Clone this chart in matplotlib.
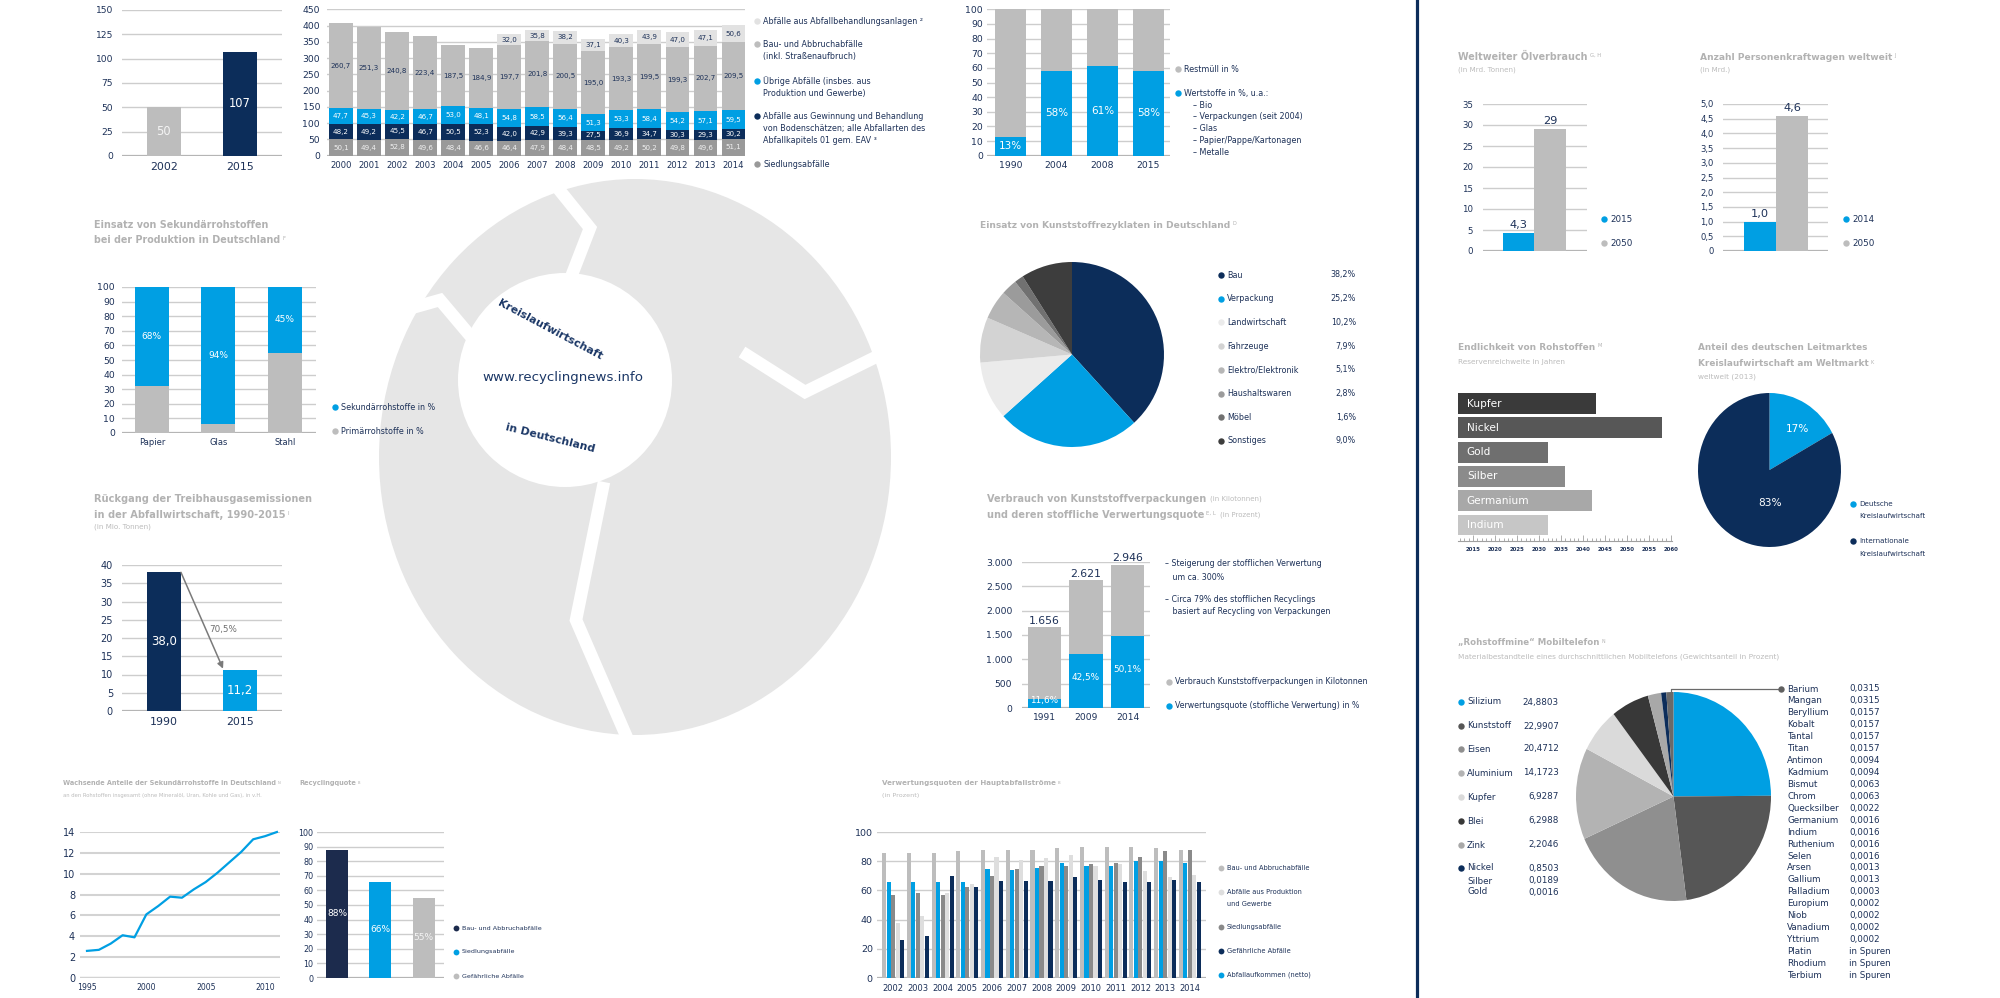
import numpy as np
import matplotlib
matplotlib.use('Agg')
import matplotlib.pyplot as plt
from matplotlib.patches import Ellipse

plt.rcParams['font.family'] = ['DejaVu Sans']

# ------------------------------------------------------------------ data
a_years = ['2002', '2015']
a_values = [50, 107]

b_years = ['2000', '2001', '2002', '2003', '2004', '2005', '2006', '2007',
           '2008', '2009', '2010', '2011', '2012', '2013', '2014']
b_siedlung = [50.1, 49.4, 52.8, 49.6, 48.4, 46.6, 46.4, 47.9, 48.4, 48.5, 49.2, 50.2, 49.8, 49.6, 51.1]
b_gewinnung = [48.2, 49.2, 45.5, 46.7, 50.5, 52.3, 42.0, 42.9, 39.3, 27.5, 36.9, 34.7, 30.3, 29.3, 30.2]
b_uebrige = [47.7, 45.3, 42.2, 46.7, 53.0, 48.1, 54.8, 58.5, 56.4, 51.3, 53.3, 58.4, 54.2, 57.1, 59.5]
b_bau = [260.7, 251.3, 240.8, 223.4, 187.5, 184.9, 197.7, 201.8, 200.5, 195.0, 193.3, 199.5, 199.3, 202.7, 209.5]
b_behandlung = [0, 0, 0, 0, 0, 0, 32.0, 35.8, 38.2, 37.1, 40.3, 43.9, 47.0, 47.1, 50.6]

c_years = ['1990', '2004', '2008', '2015']
c_wertstoffe = [13, 58, 61, 58]
c_restmuell = [87, 42, 39, 42]

d_materials = ['Papier', 'Glas', 'Stahl']
d_sekundaer = [68, 94, 45]
d_primaer = [32, 6, 55]

e_years = ['1990', '2015']
e_values = [38.0, 11.2]
e_reduction = '70,5%'

f_sectors = ['Bau', 'Verpackung', 'Landwirtschaft', 'Fahrzeuge', 'Elektro/Elektronik',
             'Haushaltswaren', 'Möbel', 'Sonstiges']
f_shares = [38.2, 25.2, 10.2, 7.9, 5.1, 2.8, 1.6, 9.0]

g_years = ['1991', '2009', '2014']
g_verbrauch = [1656, 2621, 2946]
g_verwertet = [192, 1114, 1476]
g_quote = [11.6, 42.5, 50.1]

h_years = ['2015', '2050']
h_oil = [4.3, 29]

i_years = ['2014', '2050']
i_cars = [1.0, 4.6]

j_metals = ['Kupfer', 'Nickel', 'Gold', 'Silber', 'Germanium', 'Indium']
j_end_year = [2043, 2058, 2032, 2036, 2042, 2032]

k_labels = ['Deutsche\nKreislaufwirtschaft', 'Internationale\nKreislaufwirtschaft']
k_shares = [17, 83]

l_names = ['Silizium', 'Kunststoff', 'Eisen', 'Aluminium', 'Kupfer', 'Blei', 'Zink', 'Nickel', 'Silber', 'Gold']
l_values = ['24,8803', '22,9907', '20,4712', '14,1723', '6,9287', '6,2988', '2,2046', '0,8503', '0,0189', '0,0016']
l_pie = [24.8803, 22.9907, 20.4712, 14.1723, 6.9287, 6.2988, 2.2046, 0.8503, 1.18]
l_trace_names = ['Barium', 'Mangan', 'Beryllium', 'Kobalt', 'Tantal', 'Titan', 'Antimon', 'Kadmium',
                 'Bismut', 'Chrom', 'Quecksilber', 'Germanium', 'Indium', 'Ruthenium', 'Selen',
                 'Arsen', 'Gallium', 'Palladium', 'Europium', 'Niob', 'Vanadium', 'Yttrium',
                 'Platin', 'Rhodium', 'Terbium']
l_trace_values = ['0,0315', '0,0315', '0,0157', '0,0157', '0,0157', '0,0157', '0,0094', '0,0094',
                  '0,0063', '0,0063', '0,0022', '0,0016', '0,0016', '0,0016', '0,0016',
                  '0,0013', '0,0013', '0,0003', '0,0002', '0,0002', '0,0002', '0,0002',
                  'in Spuren', 'in Spuren', 'in Spuren']

m_years = [1995, 1996, 1997, 1998, 1999, 2000, 2001, 2002, 2003, 2004, 2005, 2006, 2007, 2008, 2009, 2010, 2011]
m_share = [2.6, 2.7, 3.3, 4.1, 3.9, 6.1, 6.9, 7.8, 7.7, 8.5, 9.2, 10.1, 11.1, 12.1, 13.3, 13.6, 14.0]

n_streams = ['Bau- und Abbruchabfälle', 'Siedlungsabfälle', 'Gefährliche Abfälle']
n_quote = [88, 66, 55]

o_years = ['2002', '2003', '2004', '2005', '2006', '2007', '2008', '2009', '2010', '2011', '2012', '2013', '2014']
o_bau = [85.5, 85.5, 85.5, 87, 88, 88, 88, 89, 90, 90, 90, 89, 88]
o_netto = [66, 66, 66, 66, 74.5, 74, 75.5, 79, 77, 77, 80, 80, 79]
o_siedlung = [57, 58.5, 57, 62, 70, 74.5, 77, 77, 78, 79, 83, 87, 88]
o_produktion = [38, 42.5, 58.5, 64.5, 83, 81, 82, 84, 77, 78, 73, 69, 70.5]
o_gefaehrlich = [26, 28.5, 70, 62, 66.5, 66.5, 66.5, 69, 67, 66, 66, 67, 65.5]

# ------------------------------------------------------------------ style
NAVY = '#0c2d5a'
NAVY2 = '#1c2b4d'
BLUE = '#009fe3'
LG = '#bdbdbd'
VLG = '#e2e2e2'
MG = '#999999'
GRID = '#cdcdcd'
TXT = '#1d3158'
TITLE = '#b2b2b2'
SUB = '#bcbcbc'

W, H = 2000, 998
fig = plt.figure(figsize=(W / 100, H / 100), dpi=100)
fig.patch.set_facecolor('white')


def pax(x0, y0, x1, y1, z=5):
    ax = fig.add_axes([x0 / W, 1 - y1 / H, (x1 - x0) / W, (y1 - y0) / H], zorder=z)
    ax.patch.set_alpha(0)
    return ax


def de(v, d=1):
    return f'{v:.{d}f}'.replace('.', ',')


def bar_style(ax, top, step, ysize=6.5, ypad=5, xsize=6.5, xpad=4, fmt=None, grid=GRID, glw=1.0):
    ticks = np.arange(0, top + step / 2, step)
    ax.set_ylim(0, top)
    ax.set_yticks(ticks)
    ax.set_yticklabels([fmt(t) if fmt else f'{t:g}' for t in ticks])
    ax.grid(axis='y', color=grid, lw=glw)
    ax.grid(axis='x', visible=False)
    ax.set_axisbelow(True)
    for s in ax.spines.values():
        s.set_visible(False)
    ax.axhline(0, color='#b0b0b0', lw=1.6, zorder=0.5)
    ax.tick_params(axis='y', length=0, labelsize=ysize, labelcolor=TXT, pad=ypad)
    ax.tick_params(axis='x', length=0, labelsize=xsize, labelcolor=TXT, pad=xpad)


# background ring graphic
bg = fig.add_axes([0, 0, 1, 1], zorder=0)
bg.set_xlim(0, W)
bg.set_ylim(H, 0)
bg.axis('off')
bg.add_patch(Ellipse((635, 457), 512, 556, color='#e6e6e6', lw=0))
for pts in [[(548, 176), (590, 228), (566, 290)],
            [(890, 350), (805, 392), (742, 352)],
            [(628, 740), (576, 620), (604, 482)],
            [(376, 318), (440, 300), (478, 345)]]:
    xs, ys = zip(*pts)
    bg.plot(xs, ys, color='white', lw=9, solid_capstyle='butt', solid_joinstyle='miter')
bg.add_patch(Ellipse((565, 380), 214, 214, color='white', lw=0))

# overlay for free text
ov = fig.add_axes([0, 0, 1, 1], zorder=20)
ov.set_xlim(0, W)
ov.set_ylim(H, 0)
ov.axis('off')
ov.patch.set_alpha(0)


def T(x, y, s, size=5.8, color=TXT, weight='normal', ha='left', va='center', **kw):
    return ov.text(x, y, s, fontsize=size, color=color, fontweight=weight, ha=ha, va=va, **kw)


def dot(x, y, c, ms=4.6):
    ov.plot([x], [y], 'o', color=c, ms=ms, mec='none')


def title(x, y, s, size, sup=None, color=TITLE):
    t = T(x, y, s, size=size, color=color, weight='bold')
    a = None
    if sup:
        a = ov.annotate(sup, xy=(1, 1), xycoords=t, xytext=(1.5, -0.5), textcoords='offset points',
                        fontsize=size * 0.55, color=color, ha='left', va='top')
    return t, a


def after(prev, s, size, color=SUB, ycoord=None, dx=3):
    return ov.annotate(s, xy=(1, 0.5), xycoords=(prev, ycoord if ycoord is not None else prev),
                       xytext=(dx, 0), textcoords='offset points', fontsize=size, color=color,
                       ha='left', va='center')


# separator line
ov.plot([1417, 1417], [0, H], color=NAVY, lw=2.3)

# ------------------------------------------------------------------ A
ax = pax(122, 10, 282, 156)
ax.bar(range(2), a_values, width=0.447, color=[LG, NAVY])
ax.set_xlim(-0.55, 1.55)
bar_style(ax, 150, 25, ysize=6.6, ypad=6.5, xsize=7.9, xpad=4)
ax.set_xticks(range(2))
ax.set_xticklabels(a_years)
for i, v in enumerate(a_values):
    ax.text(i, v / 2, str(v), ha='center', va='center', color=['#f4f4f4', 'white'][i], fontsize=8.3)

# ------------------------------------------------------------------ B
ax = pax(327, 9.3, 745, 155.7)
xb = np.arange(len(b_years))
bottom = np.zeros(len(b_years))
for vals, col, tc in [(b_siedlung, MG, '#f0f0f0'), (b_gewinnung, NAVY, 'white'),
                      (b_uebrige, BLUE, 'white'), (b_bau, LG, TXT), (b_behandlung, VLG, TXT)]:
    vals = np.array(vals, dtype=float)
    ax.bar(xb, vals, bottom=bottom, width=0.85, color=col, lw=0)
    for i, v in enumerate(vals):
        if v > 0:
            ax.text(i, bottom[i] + v / 2, de(v), ha='center', va='center', color=tc, fontsize=5.1)
    bottom += vals
ax.set_xlim(-0.5, 14.41)
bar_style(ax, 450, 50, ysize=6.7, ypad=5, xsize=6.1, xpad=4)
ax.set_xticks(xb)
ax.set_xticklabels(b_years)

leg_b = [(21, VLG, ['Abfälle aus Abfallbehandlungsanlagen ²']),
         (44, LG, ['Bau- und Abbruchabfälle', '(inkl. Straßenaufbruch)']),
         (81, BLUE, ['Übrige Abfälle (insbes. aus', 'Produktion und Gewerbe)']),
         (116, NAVY, ['Abfälle aus Gewinnung und Behandlung', 'von Bodenschätzen; alle Abfallarten des',
                      'Abfallkapitels 01 gem. EAV ³']),
         (164, MG, ['Siedlungsabfälle'])]
for y, c, lines in leg_b:
    dot(757, y, c)
    for k, line in enumerate(lines):
        T(763, y + 12.4 * k, line, size=5.8)

# ------------------------------------------------------------------ C
ax = pax(987, 9.3, 1170, 155.7)
xc = np.arange(len(c_years))
ax.bar(xc, c_wertstoffe, width=0.67, color=BLUE, lw=0)
ax.bar(xc, c_restmuell, bottom=c_wertstoffe, width=0.67, color=LG, lw=0)
for i, v in enumerate(c_wertstoffe):
    ax.text(i, v / 2, f'{v}%', ha='center', va='center', color='white', fontsize=7.5)
ax.set_xlim(-0.51, 3.47)
bar_style(ax, 100, 10, ysize=6.7, ypad=3, xsize=6.7, xpad=4)
ax.set_xticks(xc)
ax.set_xticklabels(c_years)
dot(1178, 69, LG)
T(1184, 69, 'Restmüll in %')
dot(1178, 93, BLUE)
T(1184, 93, 'Wertstoffe in %, u.a.:')
for k, s in enumerate(['– Bio', '– Verpackungen (seit 2004)', '– Glas', '– Papier/Pappe/Kartonagen', '– Metalle']):
    T(1193, 105 + 11.9 * k, s)

# ------------------------------------------------------------------ D
title(94, 225, 'Einsatz von Sekundärrohstoffen', 6.9)
title(94, 240, 'bei der Produktion in Deutschland', 6.9, sup='F')
ax = pax(122, 287, 316, 433)
xd = np.arange(3)
ax.bar(xd, d_primaer, width=0.51, color=LG, lw=0)
ax.bar(xd, d_sekundaer, bottom=d_primaer, width=0.51, color=BLUE, lw=0)
for i in range(3):
    ax.text(i, d_primaer[i] + d_sekundaer[i] / 2, f'{d_sekundaer[i]}%', ha='center', va='center',
            color='white', fontsize=6.5)
ax.set_xlim(-0.45, 2.47)
bar_style(ax, 100, 10, ysize=6.7, ypad=5, xsize=6.0, xpad=3.5)
ax.set_xticks(xd)
ax.set_xticklabels(d_materials)
dot(335, 407, BLUE)
T(341, 407, 'Sekundärrohstoffe in %')
dot(335, 431, LG)
T(341, 431, 'Primärrohstoffe in %')

# ------------------------------------------------------------------ E
title(94, 499, 'Rückgang der Treibhausgasemissionen', 7.1)
title(94, 515, 'in der Abfallwirtschaft, 1990-2015', 7.1, sup='I')
T(94, 527, '(in Mio. Tonnen)', size=5.2, color=SUB)
ax = pax(122, 565, 282, 711)
ax.bar(range(2), e_values, width=0.447, color=[NAVY, BLUE], lw=0)
ax.set_xlim(-0.55, 1.55)
bar_style(ax, 40, 5, ysize=7.0, ypad=6.5, xsize=7.9, xpad=4)
ax.set_xticks(range(2))
ax.set_xticklabels(e_years)
for i, v in enumerate(e_values):
    ax.text(i, v / 2, de(v), ha='center', va='center', color='white', fontsize=8.5)
ax.annotate('', xy=(0.776, 11.6), xytext=(0.2235, e_values[0]),
            arrowprops=dict(arrowstyle='-|>', color='#7a7a7a', lw=1.1, mutation_scale=9,
                            shrinkA=0, shrinkB=0))
ax.text(0.6, 22.2, e_reduction, fontsize=6.3, color='#6f6f6f', va='center')

# ------------------------------------------------------------------ F
title(980, 225, 'Einsatz von Kunststoffrezyklaten in Deutschland', 6.6, sup='D')
f_cols = [NAVY, BLUE, '#ebebeb', '#d3d3d3', '#b6b6b6', '#9b9b9b', '#717171', '#3d3d3d']
ax = pax(980, 262, 1164, 447)
ax.pie(f_shares, colors=f_cols, startangle=90, counterclock=False, wedgeprops={'linewidth': 0})
ax.set_aspect('auto')
ax.set_xlim(-1, 1)
ax.set_ylim(-1, 1)
for k, (nm, v) in enumerate(zip(f_sectors, f_shares)):
    y = 275 + 23.7 * k
    dot(1221, y, f_cols[k])
    T(1227, y, nm)
    T(1356, y, de(v) + '%', ha='right')

# ------------------------------------------------------------------ G
t, _ = title(987, 499, 'Verbrauch von Kunststoffverpackungen', 7.0)
after(t, '(in Kilotonnen)', 5.0)
t, a = title(987, 515, 'und deren stoffliche Verwertungsquote', 7.0, sup='E, L')
after(a, '(in Prozent)', 5.0, ycoord=t)
ax = pax(1022, 562, 1150, 708)
xg = np.arange(3)
ax.bar(xg, g_verbrauch, width=0.8, color=LG, lw=0)
ax.bar(xg, g_verwertet, width=0.8, color=BLUE, lw=0)
for i in range(3):
    ax.text(i, g_verbrauch[i] + 35, f'{g_verbrauch[i]:,}'.replace(',', '.'), ha='center', va='bottom',
            color=TXT, fontsize=7.8)
    ax.text(i, g_verwertet[i] / 2 + 60, de(g_quote[i]) + '%', ha='center', va='center', color='white',
            fontsize=6.4)
ax.set_xlim(-0.54, 2.54)
bar_style(ax, 3000, 500, ysize=6.7, ypad=7, xsize=6.6, xpad=3.5,
          fmt=lambda v: f'{int(v):,}'.replace(',', '.'))
ax.set_xticks(xg)
ax.set_xticklabels(g_years)
T(1165, 564, '– Steigerung der stofflichen Verwertung', size=5.7)
T(1165, 577, '   um ca. 300%', size=5.7)
T(1165, 600, '– Circa 79% des stofflichen Recyclings', size=5.7)
T(1165, 612, '   basiert auf Recycling von Verpackungen', size=5.7)
dot(1169, 682, LG)
T(1175, 682, 'Verbrauch Kunststoffverpackungen in Kilotonnen', size=5.7)
dot(1169, 706, BLUE)
T(1175, 706, 'Verwertungsquote (stoffliche Verwertung) in %', size=5.7)

# ------------------------------------------------------------------ H
title(1458, 57, 'Weltweiter Ölverbrauch', 6.9, sup='G, H')
T(1458, 70, '(in Mrd. Tonnen)', size=5.1, color=SUB)
ax = pax(1483, 104, 1587, 251)
ax.bar(range(2), h_oil, width=1.0, color=[BLUE, LG], lw=0)
ax.set_xlim(-1.13, 2.17)
bar_style(ax, 35, 5, ysize=6.2, ypad=7)
ax.set_xticks([])
for i, v in enumerate(h_oil):
    ax.text(i, v + 0.8, f'{v:g}'.replace('.', ','), ha='center', va='bottom', color=TXT, fontsize=8.2)
for k, (yr, c) in enumerate(zip(h_years, [BLUE, LG])):
    dot(1604, 219 + 24 * k, c)
    T(1610, 219 + 24 * k, yr, size=6.3)

# ------------------------------------------------------------------ I
title(1700, 57, 'Anzahl Personenkraftwagen weltweit', 6.6, sup='J')
T(1700, 70, '(in Mrd.)', size=5.1, color=SUB)
ax = pax(1723, 104, 1828, 251)
ax.bar(range(2), i_cars, width=1.0, color=[BLUE, LG], lw=0)
ax.set_xlim(-1.16, 2.125)
bar_style(ax, 5, 0.5, ysize=6.1, ypad=6.5, fmt=lambda v: '0' if v == 0 else de(v))
ax.set_xticks([])
for i, v in enumerate(i_cars):
    ax.text(i, v + 0.1, de(v), ha='center', va='bottom', color=TXT, fontsize=8.2)
for k, (yr, c) in enumerate(zip(i_years, [BLUE, LG])):
    dot(1846, 219 + 24 * k, c)
    T(1852, 219 + 24 * k, yr, size=6.3)

# ------------------------------------------------------------------ J
title(1458, 347, 'Endlichkeit von Rohstoffen', 6.5, sup='M')
T(1458, 362, 'Reservenreichweite in Jahren', size=5.3, color=SUB)
XMIN = 2011.6
ax = pax(1458, 390, 1672, 541)
j_cols = ['#3a3a3a', '#575757', '#6f6f6f', '#8b8b8b', '#a8a8a8', '#c6c6c6']
ax.barh(range(6), np.array(j_end_year) - XMIN, left=XMIN, height=0.86, color=j_cols, lw=0)
for k, nm in enumerate(j_metals):
    ax.text(2013.6, k, nm, color='white', fontsize=7.6, va='center', ha='left')
ax.set_xlim(XMIN, 2060.3)
ax.set_ylim(5.66, -0.56)
ax.set_yticks([])
for s in ['top', 'right', 'left']:
    ax.spines[s].set_visible(False)
ax.spines['bottom'].set_color('#a0a0a0')
ax.spines['bottom'].set_linewidth(0.8)
ax.set_xticks(range(2015, 2061, 5))
ax.set_xticks(range(2012, 2061), minor=True)
ax.tick_params(axis='x', which='both', direction='in', color='#a0a0a0', labelsize=3.9,
               labelcolor=TXT, pad=4, width=0.6)
ax.tick_params(axis='x', which='major', length=4)
ax.tick_params(axis='x', which='minor', length=2.5)
for lb in ax.get_xticklabels():
    lb.set_fontweight('bold')

# ------------------------------------------------------------------ K
title(1698, 348, 'Anteil des deutschen Leitmarktes', 6.4)
title(1698, 364, 'Kreislaufwirtschaft am Weltmarkt', 6.4, sup='K')
T(1698, 377, 'weltweit (2013)', size=5.3, color=SUB)
ax = pax(1698, 393, 1841, 547)
ax.pie(k_shares, colors=[BLUE, NAVY], startangle=90, counterclock=False, wedgeprops={'linewidth': 0})
ax.set_aspect('auto')
ax.set_xlim(-1, 1)
ax.set_ylim(-1, 1)
ax.text(0.39, 0.53, f'{k_shares[0]}%', color='white', fontsize=7.6, ha='center', va='center')
ax.text(0.01, -0.43, f'{k_shares[1]}%', color='white', fontsize=7.6, ha='center', va='center')
for k, (lbl, c) in enumerate(zip(k_labels, [BLUE, NAVY])):
    y = 504 + 37 * k
    dot(1853, y, c)
    l1, l2 = lbl.split('\n')
    T(1859, y, l1, size=5.1)
    T(1859, y + 12.5, l2, size=5.1)

# ------------------------------------------------------------------ L
title(1458, 643, '„Rohstoffmine“ Mobiltelefon', 6.2, sup='N')
T(1458, 657, 'Materialbestandteile eines durchschnittlichen Mobiltelefons (Gewichtsanteil in Prozent)',
  size=5.35, color=SUB)
l_cols = [BLUE, '#565656', '#8f8f8f', '#b3b3b3', '#dadada', '#383838', '#a8a8a8', NAVY, '#6a6a6a']
ax = pax(1576, 692, 1771, 901)
ax.pie(l_pie, colors=l_cols, startangle=90, counterclock=False, wedgeprops={'linewidth': 0})
ax.set_aspect('auto')
ax.set_xlim(-1, 1)
ax.set_ylim(-1, 1)
l_rows = [702, 726, 749, 773, 797, 821, 845, 868, 881, 892]
for k, (nm, v) in enumerate(zip(l_names, l_values)):
    y = l_rows[k]
    if k < 8:
        dot(1461, y, l_cols[k])
    T(1467, y, nm, size=6.3)
    T(1559, y, v, size=6.3, ha='right')
ov.plot([1781, 1671, 1671], [689, 689, 694], color='#6a6a6a', lw=0.9)
dot(1781, 689, '#606060')
for k, (nm, v) in enumerate(zip(l_trace_names, l_trace_values)):
    y = 689 + 11.93 * k
    T(1787, y, nm, size=6.3)
    T(1849, y, v, size=6.3)

# ------------------------------------------------------------------ M
title(63, 783, 'Wachsende Anteile der Sekundärrohstoffe in Deutschland', 4.7, sup='N')
T(63, 795, 'an den Rohstoffen insgesamt (ohne Mineralöl, Uran, Kohle und Gas), in v.H.', size=3.8, color=SUB)
ax = pax(80, 832, 280, 978)
ax.plot(m_years, m_share, color=BLUE, lw=1.6, clip_on=False, solid_joinstyle='round')
ax.set_xlim(1994.41, 2011.26)
bar_style(ax, 14, 2, ysize=7.0, ypad=3.5, xsize=5.6, xpad=3.5, grid='#d3d3d3', glw=1.5)
ax.set_xticks([1995, 2000, 2005, 2010])

# ------------------------------------------------------------------ N
title(299, 783, 'Recyclingquote', 4.8, sup='B')
ax = pax(317, 832, 444, 978)
ax.bar(range(3), n_quote, width=0.51, color=[NAVY2, BLUE, LG], lw=0)
for i, v in enumerate(n_quote):
    ax.text(i, v / 2, f'{v}%', ha='center', va='center', color=['white', 'white', '#f4f4f4'][i], fontsize=6.5)
ax.set_xlim(-0.46, 2.47)
bar_style(ax, 100, 10, ysize=5.8, ypad=2.5)
ax.set_xticks([])
for k, (nm, c) in enumerate(zip(n_streams, [NAVY2, BLUE, LG])):
    y = 928 + 24 * k
    dot(456, y, c, ms=4.2)
    T(462, y, nm, size=4.6)

# ------------------------------------------------------------------ O
title(882, 783, 'Verwertungsquoten der Hauptabfallströme', 5.1, sup='B')
T(882, 795, '(in Prozent)', size=4.6, color=SUB)
ax = pax(877, 832, 1206, 978)
xo = np.arange(len(o_years))
o_series = [(o_bau, LG), (o_netto, BLUE), (o_siedlung, '#8a8a8a'), (o_produktion, '#dedede'),
            (o_gefaehrlich, NAVY)]
for k, (vals, c) in enumerate(o_series):
    ax.bar(xo + (k - 2) * 0.182, vals, width=0.165, color=c, lw=0)
ax.set_xlim(-0.65, 12.65)
bar_style(ax, 100, 20, ysize=6.8, ypad=3, xsize=6.0, xpad=4)
ax.set_xticks(xo)
ax.set_xticklabels(o_years)
leg_o = [(868, LG, ['Bau- und Abbruchabfälle']),
         (892, '#dedede', ['Abfälle aus Produktion', 'und Gewerbe']),
         (927, '#8a8a8a', ['Siedlungsabfälle']),
         (951, NAVY, ['Gefährliche Abfälle']),
         (975, BLUE, ['Abfallaufkommen (netto)'])]
for y, c, lines in leg_o:
    dot(1221, y, c, ms=4.2)
    for k, line in enumerate(lines):
        T(1227, y + 12.3 * k, line, size=4.8)

# ------------------------------------------------------------------ centre text
T(550, 330, 'Kreislaufwirtschaft', size=7.8, weight='bold', color='#1b3766', ha='center', rotation=-28,
  rotation_mode='anchor')
T(563, 378, 'www.recyclingnews.info', size=9.6, color='#1b3766', ha='center')
T(550, 438, 'in Deutschland', size=7.8, weight='bold', color='#1b3766', ha='center', rotation=-14,
  rotation_mode='anchor')

fig.savefig('out.png', dpi=100, facecolor='white')
